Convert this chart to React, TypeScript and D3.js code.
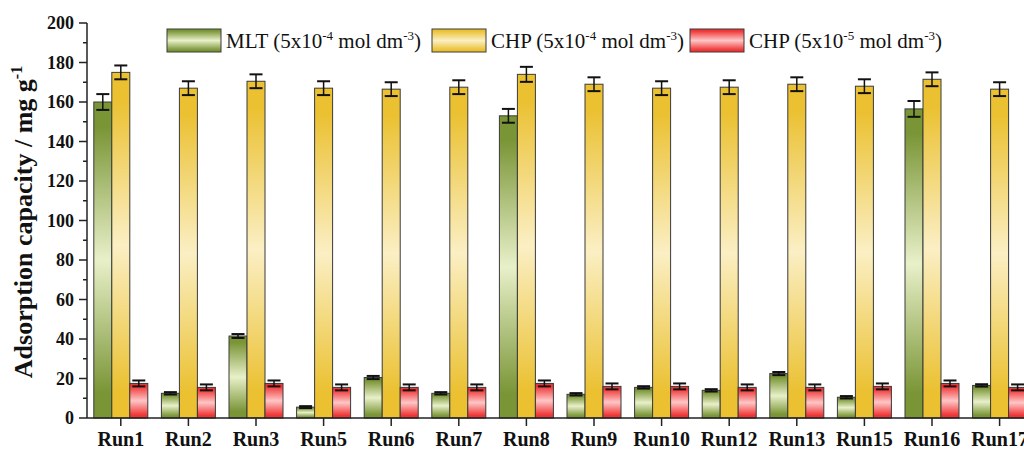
import React from "react";
import * as d3 from "d3";

const categories = ["Run1","Run2","Run3","Run5","Run6","Run7","Run8","Run9","Run10","Run12","Run13","Run15","Run16","Run17"];
const mltValues = [160, 12.5, 41.5, 5.5, 20.5, 12.5, 153, 12, 15.5, 14, 22.5, 10.5, 156.5, 16.5];
const mltErrors = [4, 0.6, 1, 0.5, 0.8, 0.6, 3.5, 0.6, 0.6, 0.6, 0.8, 0.6, 4, 0.6];
const chpHighValues = [175, 167, 170.5, 167, 166.5, 167.5, 174, 169, 167, 167.5, 169, 168, 171.5, 166.5];
const chpHighErrors = [3.5, 3.5, 3.5, 3.5, 3.5, 3.5, 3.8, 3.5, 3.5, 3.5, 3.5, 3.5, 3.5, 3.5];
const chpLowValues = [17.5, 15.5, 17.5, 15.5, 15.5, 15.5, 17.5, 16, 16, 15.5, 15.5, 16, 17.5, 15.5];
const chpLowErrors = [1.5, 1.5, 1.5, 1.5, 1.5, 1.5, 1.5, 1.5, 1.5, 1.5, 1.5, 1.5, 1.5, 1.5];
const yTicks = [0, 20, 40, 60, 80, 100, 120, 140, 160, 180, 200];

const seriesList = [
  { key: "mlt", values: mltValues, errors: mltErrors, dark: "#7a9536", light: "#e8f0c9", label: ["MLT (5x10", "-4", " mol dm", "-3", ")"] },
  { key: "chpH", values: chpHighValues, errors: chpHighErrors, dark: "#ebc132", light: "#fbefc4", label: ["CHP (5x10", "-4", " mol dm", "-3", ")"] },
  { key: "chpL", values: chpLowValues, errors: chpLowErrors, dark: "#ef3535", light: "#ffc6c6", label: ["CHP (5x10", "-5", " mol dm", "-3", ")"] },
];

const W = 1024, H = 450;
const left = 87, bottom = 418, top = 23;
const step = 67.6;
const font = "'Liberation Serif', 'Times New Roman', serif";

export default function App() {
  const x = d3.scaleBand<string>().domain(categories).range([left, left + step * categories.length]).paddingInner(0).paddingOuter(0);
  const y = d3.scaleLinear().domain([0, 200]).range([bottom, top]);
  const barW = 18;
  const xs = d3.scaleBand<string>().domain(seriesList.map(s => s.key)).range([-barW * 1.5, barW * 1.5]);
  const minorTicks = d3.range(10, 200, 20);
  const legendX = [167, 432, 690];

  return (
    <svg width={W} height={H} style={{ position: "absolute", left: 0, top: 0, background: "#fff" }} fontFamily={font}>
      <defs>
        {seriesList.map(s => (
          <linearGradient key={s.key} id={"g-" + s.key} x1="0" y1="0" x2="0" y2="1">
            <stop offset="0" stopColor={s.dark} />
            <stop offset="0.08" stopColor={s.dark} />
            <stop offset="0.5" stopColor={s.light} />
            <stop offset="0.92" stopColor={s.dark} />
            <stop offset="1" stopColor={s.dark} />
          </linearGradient>
        ))}
      </defs>

      {/* bars */}
      {categories.map((c, i) => {
        const cx = (x(c) ?? 0) + x.bandwidth() / 2;
        return (
          <g key={c}>
            {seriesList.map(s => {
              const bx = cx + (xs(s.key) ?? 0);
              const v = s.values[i];
              const e = s.errors[i];
              const mid = bx + barW / 2;
              const capW = 13;
              return (
                <g key={s.key}>
                  <rect x={bx} y={y(v)} width={barW} height={bottom - y(v)} fill={`url(#g-${s.key})`} stroke="#3a3a3a" strokeWidth={1} />
                  <line x1={mid} x2={mid} y1={y(v + e)} y2={y(v - e)} stroke="#111" strokeWidth={1.5} />
                  <line x1={mid - capW / 2} x2={mid + capW / 2} y1={y(v + e)} y2={y(v + e)} stroke="#111" strokeWidth={2} />
                  <line x1={mid - capW / 2} x2={mid + capW / 2} y1={y(v - e)} y2={y(v - e)} stroke="#111" strokeWidth={2} />
                </g>
              );
            })}
          </g>
        );
      })}

      {/* y axis */}
      <line x1={left} x2={left} y1={top} y2={bottom} stroke="#222" strokeWidth={1.5} />
      {yTicks.map(t => (
        <g key={t}>
          <line x1={left - 8} x2={left} y1={y(t)} y2={y(t)} stroke="#222" strokeWidth={1.5} />
          <text x={left - 13} y={y(t)} dy="0.35em" textAnchor="end" fontWeight="bold" fontSize={18} fill="#111">{t}</text>
        </g>
      ))}
      {minorTicks.map(t => (
        <line key={t} x1={left - 4} x2={left} y1={y(t)} y2={y(t)} stroke="#222" strokeWidth={1.5} />
      ))}

      {/* x axis */}
      <line x1={left} x2={W} y1={bottom} y2={bottom} stroke="#222" strokeWidth={1.5} />
      {categories.map(c => {
        const cx = (x(c) ?? 0) + x.bandwidth() / 2;
        return (
          <g key={c}>
            <line x1={cx} x2={cx} y1={bottom} y2={bottom + 8} stroke="#222" strokeWidth={1.5} />
            <text x={cx} y={446} textAnchor="middle" fontWeight="bold" fontSize={20} fill="#111">{c}</text>
          </g>
        );
      })}

      {/* y title */}
      <text transform={`translate(32,${222}) rotate(-90)`} textAnchor="middle" fontWeight="bold" fontSize={26} fill="#111">
        Adsorption capacity / mg g<tspan dy={-10} fontSize={16}>-1</tspan>
      </text>

      {/* legend */}
      {seriesList.map((s, i) => (
        <g key={s.key} transform={`translate(${legendX[i]},29)`}>
          <rect x={0} y={0} width={54} height={23} fill={`url(#g-${s.key})`} stroke="#3a3a3a" strokeWidth={1} />
          <text x={59} y={19} fontSize={21} fill="#111">
            {s.label[0]}
            <tspan dy={-8} fontSize={13}>{s.label[1]}</tspan>
            <tspan dy={8}>{s.label[2]}</tspan>
            <tspan dy={-8} fontSize={13}>{s.label[3]}</tspan>
            <tspan dy={8}>{s.label[4]}</tspan>
          </text>
        </g>
      ))}
    </svg>
  );
}
